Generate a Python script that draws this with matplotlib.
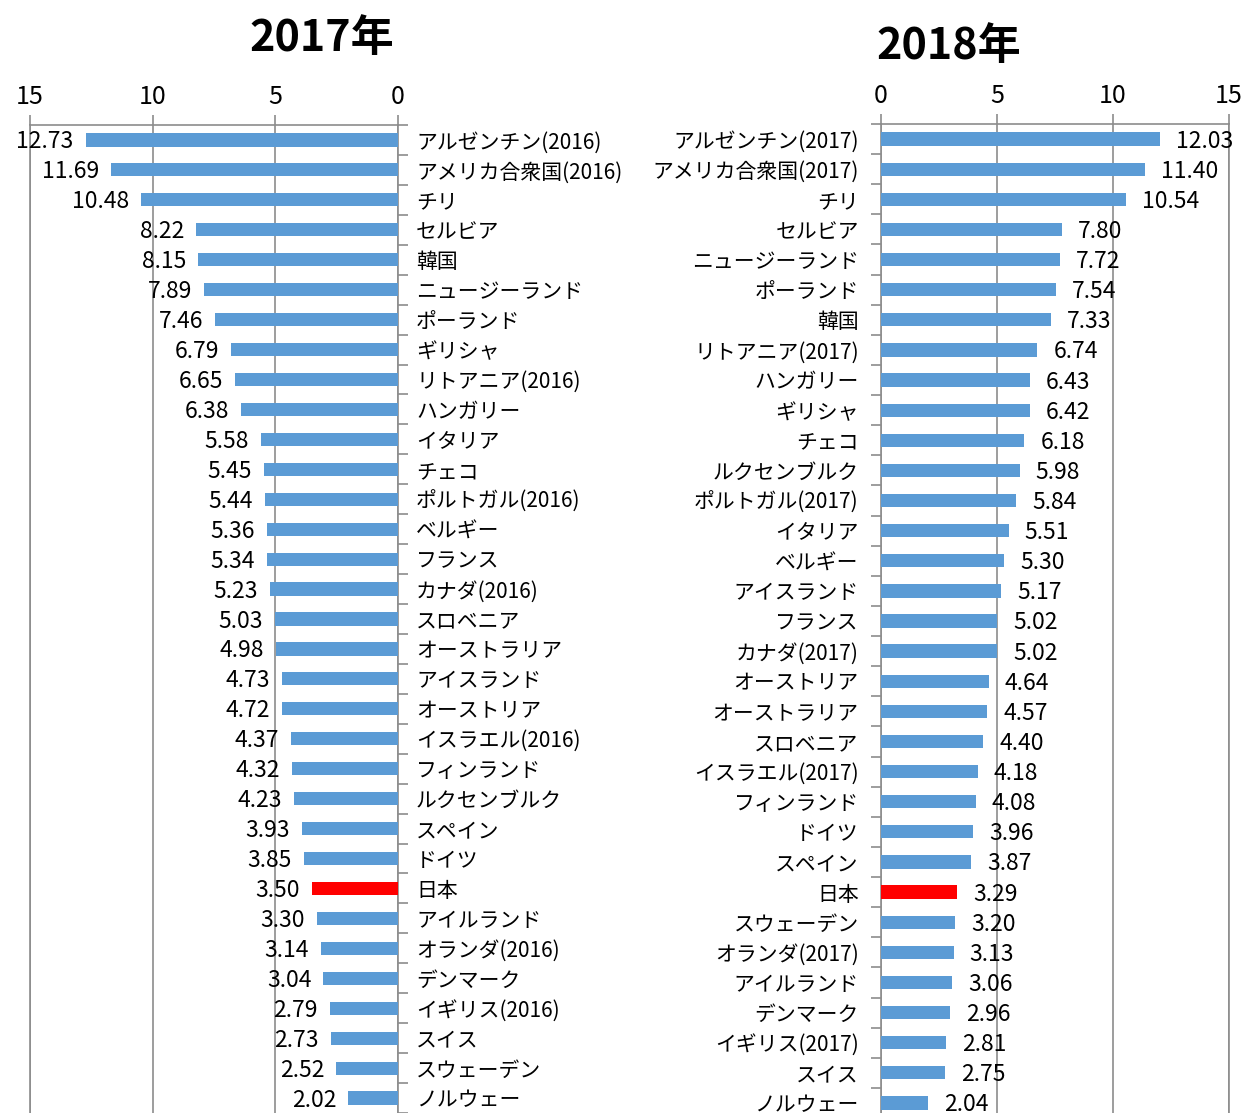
# Bar charts of two years side by side (2017 left, 2018 right)
import matplotlib
matplotlib.use("Agg")
import matplotlib.pyplot as plt
import numpy as np

plt.rcParams['font.family'] = ['Noto Sans CJK JP', 'DejaVu Sans']

# Data
countries_2017 = ["アルゼンチン(2016)", "アメリカ合衆国(2016)", "チリ", "セルビア", "韓国",
                  "ニュージーランド", "ポーランド", "ギリシャ", "リトアニア(2016)", "ハンガリー",
                  "イタリア", "チェコ", "ポルトガル(2016)", "ベルギー", "フランス", "カナダ(2016)",
                  "スロベニア", "オーストラリア", "アイスランド", "オーストリア", "イスラエル(2016)",
                  "フィンランド", "ルクセンブルク", "スペイン", "ドイツ", "日本", "アイルランド",
                  "オランダ(2016)", "デンマーク", "イギリス(2016)", "スイス", "スウェーデン", "ノルウェー"]
values_2017 = [12.73, 11.69, 10.48, 8.22, 8.15, 7.89, 7.46, 6.79, 6.65, 6.38, 5.58, 5.45, 5.44,
               5.36, 5.34, 5.23, 5.03, 4.98, 4.73, 4.72, 4.37, 4.32, 4.23, 3.93, 3.85, 3.50,
               3.30, 3.14, 3.04, 2.79, 2.73, 2.52, 2.02]

countries_2018 = ["アルゼンチン(2017)", "アメリカ合衆国(2017)", "チリ", "セルビア", "ニュージーランド",
                  "ポーランド", "韓国", "リトアニア(2017)", "ハンガリー", "ギリシャ", "チェコ",
                  "ルクセンブルク", "ポルトガル(2017)", "イタリア", "ベルギー", "アイスランド", "フランス",
                  "カナダ(2017)", "オーストリア", "オーストラリア", "スロベニア", "イスラエル(2017)",
                  "フィンランド", "ドイツ", "スペイン", "日本", "スウェーデン", "オランダ(2017)",
                  "アイルランド", "デンマーク", "イギリス(2017)", "スイス", "ノルウェー"]
values_2018 = [12.03, 11.40, 10.54, 7.80, 7.72, 7.54, 7.33, 6.74, 6.43, 6.42, 6.18, 5.98, 5.84,
               5.51, 5.30, 5.17, 5.02, 5.02, 4.64, 4.57, 4.40, 4.18, 4.08, 3.96, 3.87, 3.29,
               3.20, 3.13, 3.06, 2.96, 2.81, 2.75, 2.04]

x_ticks = [0, 5, 10, 15]

BLUE = "#5B9BD5"
RED = "#FF0000"
GRAY = "#8C8C8C"


def draw_panel(ax, names, values, reverse):
    n = len(names)
    pos = np.arange(n)
    colors = [RED if name == "日本" else BLUE for name in names]
    ax.barh(pos, values, height=0.44, color=colors, zorder=3)

    ax.set_ylim(n - 0.5, -0.5)
    if reverse:
        ax.set_xlim(15, 0)
    else:
        ax.set_xlim(0, 15)

    # value axis on top
    ax.xaxis.tick_top()
    ax.set_xticks(x_ticks)
    ax.tick_params(axis='x', length=7, width=1.2, color=GRAY, labelsize=18, pad=4)
    ax.grid(axis='x', color=GRAY, linewidth=1.2, zorder=0)

    # category axis: ticks between categories, labels at centers
    ax.set_yticks(pos)
    ax.set_yticklabels(names, fontsize=15)
    ax.set_yticks(np.arange(n + 1) - 0.5, minor=True)
    ax.tick_params(axis='y', which='major', length=0, pad=13 if reverse else 16)
    ax.tick_params(axis='y', which='minor', length=7, width=1.2, color=GRAY)
    if reverse:
        ax.yaxis.tick_right()
        ax.yaxis.set_tick_params(which='both', right=True, left=False)
    for side in ['top', 'left', 'right']:
        ax.spines[side].set_color(GRAY)
        ax.spines[side].set_linewidth(1.2)
    ax.spines['bottom'].set_visible(False)

    # value labels at bar end
    for p, v in zip(pos, values):
        if reverse:
            ax.annotate("%.2f" % v, (v, p), xytext=(-12, -2), textcoords='offset pixels',
                        ha='right', va='center', fontsize=16.5, zorder=4)
        else:
            ax.annotate("%.2f" % v, (v, p), xytext=(16, -2), textcoords='offset pixels',
                        ha='left', va='center', fontsize=16.5, zorder=4)


fig = plt.figure(figsize=(12.45, 11.13), dpi=100)
W, H = 1245, 1113

ax_left = fig.add_axes([30 / W, 0, 368 / W, 988 / H])
draw_panel(ax_left, countries_2017, values_2017, reverse=True)

ax_right = fig.add_axes([881 / W, -5 / H, 348 / W, 994 / H])
draw_panel(ax_right, countries_2018, values_2018, reverse=False)

fig.text(322 / W, 1 - 38 / H, "2017年", ha='center', va='center', fontsize=31, fontweight='bold')
fig.text(949 / W, 1 - 46 / H, "2018年", ha='center', va='center', fontsize=31, fontweight='bold')

fig.savefig("out.png", dpi=100)
